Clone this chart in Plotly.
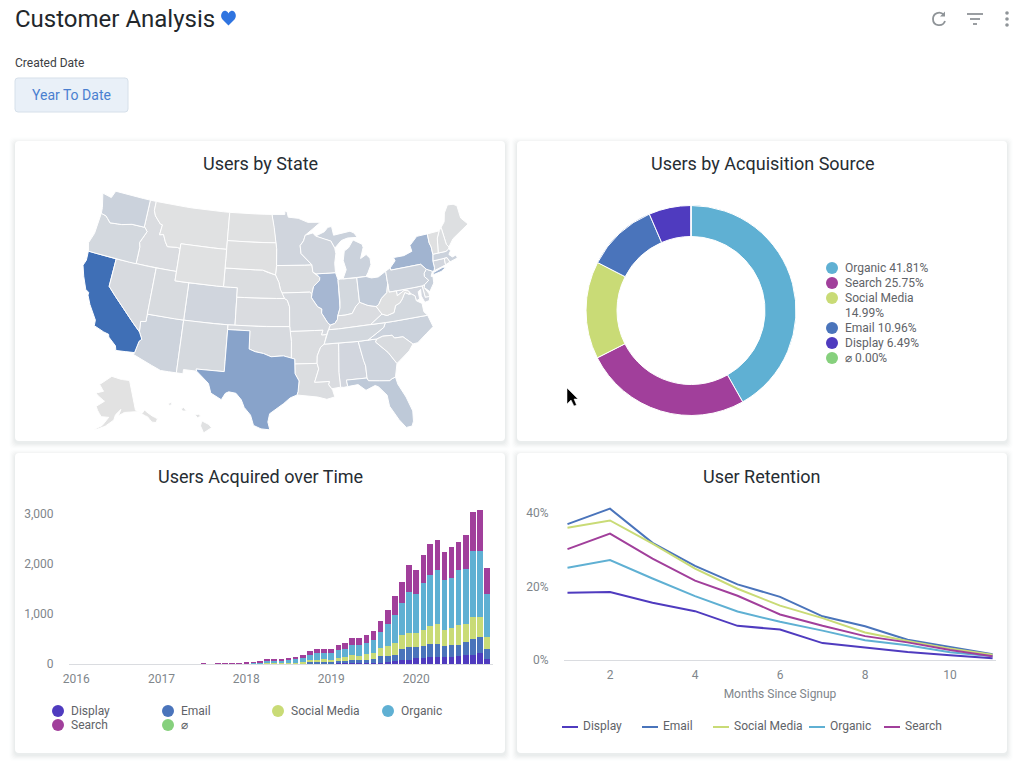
import math
import plotly.graph_objects as go

W, H = 1024, 764

COLORS = {"Display": "#4f3bbf", "Email": "#4a74bb", "Social Media": "#c9db76",
          "Organic": "#5fb0d3", "Search": "#a13f9b", "none": "#86d07d"}
GREY_TEXT = "#80868b"
LEGEND_TEXT = "#5f6368"
TITLE_TEXT = "#262d33"

# map values
state_codes = ["AL","AR","AZ","CA","CO","CT","DE","FL","GA","IA","ID","IL","IN","KS","KY","LA","MA","MD","ME","MI",
               "MN","MO","MS","MT","NC","ND","NE","NH","NJ","NM","NV","NY","OH","OK","OR","PA","RI","SC","SD","TN",
               "TX","UT","VA","VT","WA","WI","WV","WY","AK","HI"]
state_users = [10,4,13,100,11,10,6,22,12,4,5,37,9,5,5,4,14,10,3,14,
               11,7,5,1,14,1,4,3,16,8,7,40,20,7,9,13,6,6,2,9,
               55,6,9,2,14,11,2,1,0,1]

# simplified state outlines, lon/lat
state_shapes = {
    "WA": [[(-124.7,48.4),(-123.2,48.2),(-122.8,49),(-117.03,49),(-117.04,46),(-118.98,46),(-119.3,45.93),(-120.5,45.7),(-121.2,45.65),(-122.3,45.55),(-122.8,45.9),(-123.2,46.15),(-124,46.27),(-124.1,46.9)]],
    "OR": [[(-124,46.27),(-123.2,46.15),(-122.8,45.9),(-122.3,45.55),(-121.2,45.65),(-120.5,45.7),(-119.3,45.93),(-118.98,46),(-116.92,46),(-116.46,45.6),(-116.85,44.9),(-117.22,44.3),(-117.03,43.8),(-117.03,42),(-124.2,42),(-124.55,42.85),(-124.1,44),(-123.96,45.5)]],
    "CA": [[(-124.2,42),(-120,42),(-120,39),(-114.63,35),(-114.13,34.26),(-114.43,34),(-114.72,32.72),(-117.12,32.53),(-117.3,33),(-118.4,33.75),(-118.5,34.03),(-119.2,34.15),(-120.6,34.55),(-120.65,35.15),(-121.9,36.6),(-122.5,37.5),(-122.5,37.8),(-123,38),(-123.8,39.3),(-124.35,40.4),(-124.1,41)]],
    "NV": [[(-120,42),(-114.04,42),(-114.04,36.2),(-114.74,36.1),(-114.63,35),(-120,39)]],
    "ID": [[(-117.03,49),(-116.05,49),(-116.05,48),(-115.7,47.45),(-114.7,46.7),(-114.35,46.65),(-114.5,45.55),(-113.9,45.65),(-113.45,44.95),(-113,44.45),(-111.5,44.55),(-111.05,44.48),(-111.05,42),(-117.03,42),(-117.03,43.8),(-117.22,44.3),(-116.85,44.9),(-116.46,45.6),(-116.92,46),(-117.04,46)]],
    "MT": [[(-116.05,49),(-104.05,49),(-104.05,45),(-111.05,45),(-111.05,44.48),(-111.5,44.55),(-113,44.45),(-113.45,44.95),(-113.9,45.65),(-114.5,45.55),(-114.35,46.65),(-114.7,46.7),(-115.7,47.45),(-116.05,48)]],
    "WY": [[(-111.05,45),(-104.05,45),(-104.05,41),(-111.05,41)]],
    "UT": [[(-114.04,42),(-111.05,42),(-111.05,41),(-109.05,41),(-109.05,37),(-114.04,37)]],
    "CO": [[(-109.05,41),(-102.05,41),(-102.05,37),(-109.05,37)]],
    "AZ": [[(-114.04,37),(-109.05,37),(-109.05,31.33),(-111.07,31.33),(-114.81,32.5),(-114.72,32.72),(-114.43,34),(-114.13,34.26),(-114.63,35),(-114.74,36.1),(-114.04,36.2)]],
    "NM": [[(-109.05,37),(-103,37),(-103.04,32),(-106.62,32),(-106.53,31.78),(-108.21,31.78),(-108.21,31.33),(-109.05,31.33)]],
    "ND": [[(-104.05,49),(-97.23,49),(-96.85,47.6),(-96.56,45.94),(-104.05,45.94)]],
    "SD": [[(-104.05,45.94),(-96.56,45.94),(-96.45,45.3),(-96.45,43.5),(-96.6,42.5),(-97.9,42.8),(-98.5,43),(-104.05,43)]],
    "NE": [[(-104.05,43),(-98.5,43),(-97.9,42.8),(-96.6,42.5),(-96.1,41.7),(-95.9,41),(-95.31,40),(-102.05,40),(-102.05,41),(-104.05,41)]],
    "KS": [[(-102.05,40),(-95.31,40),(-94.9,39.8),(-94.61,39.1),(-94.62,37),(-102.05,37)]],
    "OK": [[(-103,37),(-94.62,37),(-94.43,35.4),(-94.48,33.64),(-95.5,33.9),(-97.1,33.8),(-98.1,34.13),(-99.2,34.3),(-100,34.56),(-100,36.5),(-103,36.5)]],
    "TX": [[(-106.62,32),(-103.04,32),(-103,36.5),(-100,36.5),(-100,34.56),(-99.2,34.3),(-98.1,34.13),(-97.1,33.8),(-95.5,33.9),(-94.48,33.64),(-94.04,33.55),(-94.04,32),(-93.55,31.2),(-93.7,30.1),(-93.84,29.7),(-94.7,29.4),(-95.5,28.8),(-97.2,27.7),(-97.4,26.8),(-97.15,25.96),(-98.2,26.05),(-99.1,26.4),(-99.5,27.5),(-100.3,28.3),(-100.7,29.1),(-101.4,29.77),(-102.3,29.88),(-102.7,29.7),(-103.15,28.98),(-104.5,29.6),(-104.9,30.6),(-106.53,31.78)]],
    "MN": [[(-97.23,49),(-95.15,49),(-95.15,49.38),(-94.8,49.3),(-94.6,48.7),(-93,48.55),(-91.5,48.07),(-89.5,48),(-92,46.7),(-92.3,46.1),(-92.85,45.6),(-92.75,44.75),(-91.2,43.5),(-96.45,43.5),(-96.45,45.3),(-96.56,45.94),(-96.85,47.6)]],
    "IA": [[(-96.45,43.5),(-91.2,43.5),(-91.1,42.7),(-90.15,42.1),(-90.2,41.8),(-91.1,41.2),(-91.42,40.38),(-91.7,40.6),(-95.77,40.58),(-95.9,41),(-96.1,41.7),(-96.6,42.5)]],
    "MO": [[(-95.77,40.58),(-91.7,40.6),(-91.42,40.38),(-91.5,40),(-90.7,39),(-90.15,38.75),(-90.2,38.3),(-89.5,37.3),(-89.13,36.98),(-89.4,36.5),(-89.7,36),(-90.37,36),(-90.15,36.5),(-94.62,36.5),(-94.62,37),(-94.61,39.1),(-94.9,39.8),(-95.31,40)]],
    "AR": [[(-94.62,36.5),(-90.15,36.5),(-90.37,36),(-89.7,36),(-90.1,35),(-90.6,34.7),(-91.1,33.8),(-91.17,33),(-94.04,33.02),(-94.04,33.55),(-94.48,33.64),(-94.43,35.4)]],
    "LA": [[(-94.04,33.02),(-91.17,33),(-91,32.4),(-91.6,31),(-89.73,31),(-89.85,30.65),(-89.5,30.2),(-89.4,30),(-89.2,29.3),(-90.2,29.1),(-91.3,29.4),(-92.3,29.55),(-93.84,29.7),(-93.7,30.1),(-93.55,31.2),(-94.04,32)]],
    "WI": [[(-92,46.7),(-90.8,46.9),(-90.4,46.55),(-89.1,46.14),(-88.1,45.9),(-87.6,45.1),(-87.5,44.5),(-87.8,43.5),(-87.8,42.49),(-90.64,42.51),(-91.1,42.7),(-91.2,43.5),(-92.75,44.75),(-92.85,45.6),(-92.3,46.1)]],
    "IL": [[(-90.64,42.51),(-87.8,42.49),(-87.53,41.72),(-87.53,39.35),(-87.6,38.7),(-88,37.9),(-88.1,37.5),(-88.5,37.1),(-89.13,36.98),(-89.5,37.3),(-90.2,38.3),(-90.15,38.75),(-90.7,39),(-91.5,40),(-91.42,40.38),(-91.1,41.2),(-90.2,41.8),(-90.15,42.1)]],
    "IN": [[(-87.53,41.72),(-87.2,41.76),(-84.8,41.72),(-84.82,39.1),(-85.4,38.7),(-86,38),(-87,37.9),(-88,37.9),(-87.6,38.7),(-87.53,39.35)]],
    "MI": [[(-86.8,41.76),(-84.8,41.72),(-83.45,41.73),(-83.1,42.1),(-82.5,42.9),(-82.5,43.6),(-83,44.05),(-83.9,43.7),(-83.3,44.85),(-83.4,45.2),(-84.7,45.78),(-85.5,45),(-86.2,44.7),(-86.5,43.7),(-86.2,42.7)],
           [(-90.4,46.55),(-89,46.95),(-88.4,47.4),(-87.8,47.45),(-87.6,46.5),(-85,46.75),(-84.4,46.5),(-84,46),(-85.5,46.05),(-86.5,45.85),(-87.6,45.1),(-88.1,45.9),(-89.1,46.14)]],
    "OH": [[(-84.8,41.72),(-83.45,41.73),(-82.7,41.5),(-81.7,41.5),(-80.52,41.98),(-80.52,40.64),(-80.85,39.7),(-81.7,39.2),(-82.2,38.6),(-82.6,38.42),(-83.7,38.65),(-84.82,39.1)]],
    "KY": [[(-89.4,36.5),(-89.13,36.98),(-88.5,37.1),(-88.1,37.5),(-88,37.9),(-87,37.9),(-86,38),(-85.4,38.7),(-84.82,39.1),(-83.7,38.65),(-82.6,38.42),(-81.97,37.54),(-83.68,36.6),(-88.07,36.5)]],
    "TN": [[(-90.1,35),(-89.7,36),(-89.4,36.5),(-88.07,36.5),(-83.68,36.6),(-81.68,36.59),(-82,36.1),(-84.3,35),(-85.6,34.98),(-88.2,35)]],
    "MS": [[(-90.1,35),(-88.2,35),(-88.47,31.9),(-88.4,30.3),(-89.5,30.2),(-89.85,30.65),(-89.73,31),(-91.6,31),(-91,32.4),(-91.17,33),(-91.1,33.8),(-90.6,34.7)]],
    "AL": [[(-88.2,35),(-85.6,34.98),(-85.18,32.87),(-85,32.3),(-85,31),(-87.6,31),(-87.5,30.3),(-88,30.25),(-88.4,30.3),(-88.47,31.9)]],
    "GA": [[(-85.6,34.98),(-83.1,35),(-83.35,34.7),(-81.9,33.4),(-81,32.1),(-81.45,30.7),(-82,30.55),(-82.2,30.4),(-84.86,30.7),(-85,31),(-85,32.3),(-85.18,32.87)]],
    "FL": [[(-87.6,31),(-85,31),(-84.86,30.7),(-82.2,30.4),(-82,30.55),(-81.45,30.7),(-81.3,29.9),(-80.55,28.4),(-80.03,26.8),(-80.15,25.7),(-80.4,25.2),(-81.1,25.15),(-81.8,26.1),(-82.7,27.7),(-82.8,28.9),(-83.7,29.9),(-84.1,30.1),(-85.3,29.7),(-86.2,30.4),(-87.5,30.3)]],
    "SC": [[(-83.35,34.7),(-83.1,35),(-82.3,35.2),(-81.05,35.15),(-80.8,34.82),(-79.67,34.8),(-78.55,33.86),(-79.2,33.2),(-80.5,32.4),(-81,32.1),(-81.9,33.4)]],
    "NC": [[(-84.3,35),(-83.1,35),(-82.3,35.2),(-81.05,35.15),(-80.8,34.82),(-79.67,34.8),(-78.55,33.86),(-77.9,33.9),(-76.5,34.7),(-75.5,35.25),(-75.9,36.55),(-81.68,36.59),(-82,36.1)]],
    "VA": [[(-83.68,36.6),(-81.97,37.54),(-81.3,37.3),(-80.3,37.5),(-79.95,38.2),(-79.3,38.4),(-78.87,38.77),(-78.35,39.4),(-77.83,39.13),(-77.5,39.1),(-77.05,38.85),(-77,38.3),(-76.3,37.9),(-76.3,37),(-75.9,36.55),(-81.68,36.59)]],
    "WV": [[(-82.6,38.42),(-82.2,38.6),(-81.7,39.2),(-80.85,39.7),(-80.52,40.64),(-80.52,39.72),(-79.48,39.72),(-79.48,39.2),(-78.4,39.62),(-77.83,39.5),(-77.72,39.32),(-77.83,39.13),(-78.35,39.4),(-78.87,38.77),(-79.3,38.4),(-79.95,38.2),(-80.3,37.5),(-81.3,37.3),(-81.97,37.54)]],
    "MD": [[(-79.48,39.72),(-75.79,39.72),(-75.7,38.46),(-75.05,38.45),(-75.25,38.03),(-75.9,37.95),(-76.2,38.7),(-76.1,39.4),(-76.5,39.2),(-76.5,38.4),(-77,38.3),(-77.05,38.85),(-77.5,39.1),(-77.72,39.32),(-77.83,39.5),(-78.4,39.62),(-79.48,39.2)]],
    "DE": [[(-75.79,39.72),(-75.4,39.8),(-75.55,39.5),(-75.1,38.8),(-75.05,38.45),(-75.7,38.46)]],
    "PA": [[(-80.52,41.98),(-79.76,42.27),(-79.76,42),(-75.35,42),(-74.7,41.36),(-75.13,40.98),(-75.2,40.65),(-74.72,40.15),(-75.4,39.8),(-75.79,39.72),(-80.52,39.72)]],
    "NJ": [[(-74.7,41.36),(-73.9,41),(-74.25,40.5),(-74,40.45),(-74.1,39.75),(-74.9,38.95),(-75.55,39.5),(-75.4,39.8),(-74.72,40.15),(-75.2,40.65),(-75.13,40.98)]],
    "NY": [[(-79.76,42.27),(-78.9,42.9),(-79.05,43.27),(-77.5,43.27),(-76.2,43.55),(-76.3,44.2),(-75,45),(-74.7,45),(-73.35,45),(-73.4,44),(-73.25,43.55),(-73.27,42.75),(-73.5,42.05),(-73.5,41.3),(-73.65,41),(-73.9,41),(-74.7,41.36),(-75.35,42),(-79.76,42)],
           [(-74,40.6),(-73.75,40.85),(-72.3,41.15),(-71.9,41.05),(-72.7,40.75),(-73.9,40.55)]],
    "CT": [[(-73.5,42.05),(-71.8,42.02),(-71.85,41.32),(-73.65,41),(-73.5,41.3)]],
    "RI": [[(-71.8,42.02),(-71.38,42.02),(-71.15,41.5),(-71.85,41.32)]],
    "MA": [[(-73.5,42.05),(-73.27,42.75),(-71.3,42.7),(-70.85,42.87),(-70.6,42.65),(-71,42.3),(-70.6,41.95),(-70,42.05),(-69.95,41.7),(-70.6,41.55),(-71.15,41.5),(-71.38,42.02),(-71.8,42.02)]],
    "VT": [[(-73.35,45),(-71.5,45.01),(-72.05,44.3),(-72.46,42.73),(-73.27,42.75),(-73.25,43.55),(-73.4,44)]],
    "NH": [[(-71.5,45.01),(-71.08,45.3),(-70.98,43.4),(-70.7,43.07),(-70.85,42.87),(-71.3,42.7),(-72.46,42.73),(-72.05,44.3)]],
    "ME": [[(-71.08,45.3),(-70.4,45.8),(-70,46.7),(-69.2,47.45),(-68.3,47.35),(-67.8,47.07),(-67.8,45.7),(-67,44.85),(-68.5,44.3),(-69.8,43.8),(-70.7,43.07),(-70.98,43.4)]],
    "AK": [[(-141,69.6),(-141,60.3),(-137.5,58.9),(-135.5,59.7),(-133.5,58),(-130,55.9),(-131.5,55),(-133.5,55.5),(-135,57.5),(-137,58.3),(-139.5,59.7),(-144,60),(-148,60.1),(-151.8,59.2),(-150,61.1),(-153.5,59.5),(-154.5,57.9),(-158,56.3),(-163,54.8),(-164.8,54.6),(-161,56),(-157.5,58.7),(-162,58.7),(-164.8,60.5),(-166,61.6),(-161,63.5),(-165,64.5),(-168,65.6),(-162.5,66.5),(-166.5,68.4),(-163,69.5),(-156.6,71.35),(-150,70.5)]],
    "HI": [[(-155.9,20.25),(-155.1,19.85),(-154.8,19.5),(-155.7,18.95),(-156.05,19.7)],
           [(-156.7,20.95),(-156.25,20.95),(-156,20.75),(-156.4,20.58)],
           [(-158.25,21.55),(-157.95,21.7),(-157.65,21.3),(-158.1,21.3)],
           [(-159.75,22.1),(-159.4,22.23),(-159.3,22),(-159.6,21.9)]],
}

# donut
source_names = ["Organic", "Search", "Social Media", "Email", "Display", "⌀"]
source_shares = [41.81, 25.75, 14.99, 10.96, 6.49, 0.0]
source_colors = [COLORS["Organic"], COLORS["Search"], COLORS["Social Media"], COLORS["Email"], COLORS["Display"], COLORS["none"]]

# monthly bars, Jul 2017 to Nov 2020
months = ["2017-07-01","2017-08-01","2017-09-01","2017-10-01","2017-11-01","2017-12-01",
          "2018-01-01","2018-02-01","2018-03-01","2018-04-01","2018-05-01","2018-06-01","2018-07-01","2018-08-01","2018-09-01","2018-10-01","2018-11-01","2018-12-01",
          "2019-01-01","2019-02-01","2019-03-01","2019-04-01","2019-05-01","2019-06-01","2019-07-01","2019-08-01","2019-09-01","2019-10-01","2019-11-01","2019-12-01",
          "2020-01-01","2020-02-01","2020-03-01","2020-04-01","2020-05-01","2020-06-01","2020-07-01","2020-08-01","2020-09-01","2020-10-01","2020-11-01"]
display_users = [0,0,0,0,1,1, 1,1,2,2,3,3,3,3,7,7,7,7, 13,13,20,20,20,27,27,27,40,53,80,80, 113,127,133,147,133,147,160,180,180,213,100]
email_users = [0,0,0,1,2,2, 3,3,3,4,7,7,7,7,7,27,33,33, 27,40,40,60,60,53,67,133,127,127,220,260, 227,233,267,253,227,233,220,260,320,327,200]
social_users = [0,0,1,1,2,2, 3,3,3,7,7,7,20,20,27,40,40,53, 40,73,87,93,80,120,120,153,193,240,280,280, 280,320,360,400,320,340,400,360,447,407,240]
organic_users = [0,0,5,6,8,8, 8,15,20,40,47,53,53,67,87,107,140,127, 140,153,153,207,220,220,267,327,440,560,640,820, 780,940,1020,1080,1000,1000,1100,1100,1313,1313,860]
search_users = [14,0,4,4,5,5, 6,10,15,47,40,33,40,47,53,80,80,80, 80,100,120,140,140,160,180,220,280,380,420,540, 480,560,620,600,560,620,560,680,780,820,513]
bar_series = [("Display", display_users), ("Email", email_users), ("Social Media", social_users),
              ("Organic", organic_users), ("Search", search_users)]
year_ticks = ["2016-01-01", "2017-01-01", "2018-01-01", "2019-01-01", "2020-01-01"]
year_labels = ["2016", "2017", "2018", "2019", "2020"]

# retention lines
signup_months = [1, 2, 3, 4, 5, 6, 7, 8, 9, 10, 11]
display_retention = [18.3, 18.5, 15.6, 13.3, 9.3, 8.3, 4.6, 3.4, 2.2, 1.3, 0.5]
email_retention = [37.0, 41.2, 31.9, 25.6, 20.6, 17.2, 11.9, 9.2, 5.5, 3.6, 1.6]
social_retention = [36.0, 38.0, 31.7, 24.9, 19.4, 14.8, 11.4, 7.5, 5.2, 3.1, 1.4]
organic_retention = [25.1, 27.2, 22.2, 17.4, 13.2, 10.4, 8.0, 5.4, 4.0, 2.1, 1.0]
search_retention = [30.2, 34.4, 27.6, 21.6, 17.5, 12.4, 9.3, 6.5, 4.8, 2.7, 1.0]
line_series = [("Display", display_retention), ("Email", email_retention), ("Social Media", social_retention),
               ("Organic", organic_retention), ("Search", search_retention)]


def px(x):
    return x / W


def py(y):
    return 1 - y / H


def a(x, y):
    return f"{px(x):.5f},{py(y):.5f}"


def path(points):
    return "M" + " L".join(a(x, y) for x, y in points) + " Z"


def rounded(x0, y0, x1, y1, r):
    return (f"M{a(x0 + r, y0)} L{a(x1 - r, y0)} Q{a(x1, y0)} {a(x1, y0 + r)} L{a(x1, y1 - r)} Q{a(x1, y1)} {a(x1 - r, y1)} "
            f"L{a(x0 + r, y1)} Q{a(x0, y1)} {a(x0, y1 - r)} L{a(x0, y0 + r)} Q{a(x0, y0)} {a(x0 + r, y0)} Z")


def conic(lon, lat, rotate, center, parallels):
    # conic equal area, same setup as d3.geoAlbersUsa
    s1, s2 = math.radians(parallels[0]), math.radians(parallels[1])
    n = (math.sin(s1) + math.sin(s2)) / 2
    c = math.cos(s1) ** 2 + 2 * n * math.sin(s1)
    r0 = math.sqrt(c) / n

    def raw(lam, phi):
        r = math.sqrt(c - 2 * n * math.sin(math.radians(phi))) / n
        t = n * math.radians(lam)
        return r * math.sin(t), r0 - r * math.cos(t)

    x, y = raw(lon + rotate, lat)
    cx, cy = raw(center[0], center[1])
    return x - cx, y - cy


def albers_usa(code, lon, lat):
    if code == "AK":
        x, y = conic(lon, lat, 154, (-2, 58.5), (55, 65))
        return 0.35 * x - 0.307, 0.35 * y - 0.201
    if code == "HI":
        x, y = conic(lon, lat, 157, (-3, 19.9), (8, 18))
        return x - 0.205, y - 0.212
    return conic(lon, lat, 96, (-0.6, 38.7), (29.5, 45.5))


def blend(value, low=(226, 226, 226), high=(63, 111, 182)):
    t = value / 100
    return "rgb(" + ",".join(str(round(l + (h - l) * t)) for l, h in zip(low, high)) + ")"


def dense_ring(ring):
    # long straight borders have to bend with the projection
    out = []
    for p, q in zip(ring, ring[1:] + ring[:1]):
        steps = max(1, int(max(abs(q[0] - p[0]), abs(q[1] - p[1])) / 1.0))
        out += [(p[0] + (q[0] - p[0]) * i / steps, p[1] + (q[1] - p[1]) * i / steps) for i in range(steps)]
    return out


fig = go.Figure()
shapes = []
annotations = []


def text(x, y, s, size=12, color=LEGEND_TEXT, anchor="left", family="Roboto"):
    # annotations carry about 2px of padding on the left
    x = x - 2 if anchor == "left" else x
    annotations.append(dict(x=px(x), y=py(y), xref="paper", yref="paper", text=s, showarrow=False,
                            xanchor=anchor, yanchor="middle", font=dict(family=family, size=size, color=color)))


def dot(x, y, r, color):
    shapes.append(dict(type="circle", xref="paper", yref="paper", x0=px(x - r), x1=px(x + r), y0=py(y + r), y1=py(y - r),
                       fillcolor=color, line_width=0))


# cards with a soft shadow
for x0, y0, x1, y1 in [(15, 141, 505, 441), (517, 141, 1007, 441), (15, 453, 505, 753), (517, 453, 1007, 753)]:
    for spread, alpha in [(6, 0.008), (5, 0.01), (4, 0.014), (3, 0.018), (2, 0.022), (1, 0.025)]:
        shapes.append(dict(type="path", xref="paper", yref="paper", layer="below", line_width=0,
                           path=rounded(x0 - spread, y0 - spread + 2, x1 + spread, y1 + spread + 2, 5),
                           fillcolor=f"rgba(60,64,67,{alpha})"))
    shapes.append(dict(type="path", xref="paper", yref="paper", layer="below", line_width=0,
                       path=rounded(x0, y0, x1, y1, 4), fillcolor="white"))

# header
text(15, 19, "Customer Analysis", size=24, color="#22272b")
shapes.append(dict(type="path", xref="paper", yref="paper", fillcolor="#2f74e0", line_width=0,
                   path=f"M{a(228.5, 25.5)} L{a(222.5, 19.5)} C{a(219, 15)} {a(223, 9.5)} {a(226, 11)} C{a(227.5, 11.5)} {a(228, 12.5)} {a(228.5, 13.5)} "
                        f"C{a(229, 12.5)} {a(229.5, 11.5)} {a(231, 11)} C{a(234, 9.5)} {a(238, 15)} {a(234.5, 19.5)} Z"))
text(15, 63, "Created Date", size=12, color="#3c4043")
shapes.append(dict(type="path", xref="paper", yref="paper", path=rounded(15, 78, 128, 112, 3),
                   fillcolor="#e9f0f8", line=dict(color="#d6e0ea", width=1)))
text(71.5, 95, "Year To Date", size=14, color="#4a7fd0", anchor="center")

# toolbar icons
ICON = "#8f9498"
shapes.append(dict(type="path", xref="paper", yref="paper", line=dict(color=ICON, width=1.8),
                   path=f"M{a(944, 15)} C{a(940, 10.5)} {a(933, 13)} {a(933, 19)} C{a(933, 26.5)} {a(943, 27)} {a(945, 21)}"))
shapes.append(dict(type="path", xref="paper", yref="paper", fillcolor=ICON, line_width=0,
                   path=path([(945, 11.5), (945, 16.5), (940, 16.5)])))
for x0, x1, y in [(967, 983, 14), (970, 980, 19), (973, 977, 24)]:
    shapes.append(dict(type="line", xref="paper", yref="paper", x0=px(x0), x1=px(x1), y0=py(y), y1=py(y),
                       line=dict(color=ICON, width=1.8)))
for y in [13, 19, 25]:
    dot(1007, y, 1.8, ICON)

# card titles
text(260, 164, "Users by State", size=18, color=TITLE_TEXT, anchor="center")
text(762, 164, "Users by Acquisition Source", size=18, color=TITLE_TEXT, anchor="center")
text(260, 476, "Users Acquired over Time", size=18, color=TITLE_TEXT, anchor="center")
text(762, 476, "User Retention", size=18, color=TITLE_TEXT, anchor="center")

# map, fitted to the CA coast at x=83 and the ME tip at x=468 / y=224
ca_x, _ = albers_usa("CA", -124.35, 40.4)
me_x, me_y = albers_usa("ME", -67, 44.85)
map_scale = (468 - 83) / (me_x - ca_x)
map_left, map_right, map_top, map_bottom = 60, 500, 180, 438
for code, users in zip(state_codes, state_users):
    xs, ys = [], []
    for ring in state_shapes[code]:
        pts = [albers_usa(code, lon, lat) for lon, lat in dense_ring(ring)]
        xs += [p[0] for p in pts] + [pts[0][0], None]
        ys += [p[1] for p in pts] + [pts[0][1], None]
    fig.add_trace(go.Scatter(x=xs, y=ys, mode="lines", fill="toself", fillcolor=blend(users), name=code,
                             line=dict(color="white", width=1), hoverinfo="name", showlegend=False,
                             xaxis="x3", yaxis="y3"))
fig.update_layout(
    xaxis3=dict(domain=[px(map_left), px(map_right)], visible=False, anchor="y3",
                range=[ca_x + (map_left - 83) / map_scale, ca_x + (map_right - 83) / map_scale]),
    yaxis3=dict(domain=[py(map_bottom), py(map_top)], visible=False, anchor="x3",
                range=[me_y - (map_bottom - 224) / map_scale, me_y - (map_top - 224) / map_scale]))

# donut
fig.add_trace(go.Pie(labels=source_names, values=source_shares, hole=0.705, sort=False, direction="clockwise",
                     rotation=0, textinfo="none", showlegend=False,
                     marker=dict(colors=source_colors, line=dict(color="white", width=1)),
                     domain=dict(x=[px(586), px(796)], y=[py(415.5), py(205.5)])))
legend_rows = [(268, "Organic 41.81%", 0), (283, "Search 25.75%", 1), (298, "Social Media", 2),
               (328, "Email 10.96%", 3), (343, "Display 6.49%", 4), (358, "⌀ 0.00%", 5)]
for y, label, i in legend_rows:
    dot(832, y, 6, source_colors[i])
    text(845, y, label)
text(845, 313, "14.99%")

# stacked bars
for name, values in bar_series:
    fig.add_trace(go.Bar(x=months, y=values, name=name, marker_color=COLORS[name], marker_line_width=0,
                         showlegend=False, xaxis="x", yaxis="y"))
tick_font = dict(family="Roboto", size=12, color=GREY_TEXT)
fig.update_layout(
    barmode="stack", bargap=0.14,
    xaxis=dict(domain=[px(69), px(493)], type="date", range=["2015-12-01", "2020-11-26"], tickmode="array",
               tickvals=year_ticks, ticktext=year_labels, showgrid=False, showline=True, linecolor="#dadce0",
               ticks="outside", tickcolor="rgba(0,0,0,0)", ticklen=4, tickfont=tick_font, zeroline=False, anchor="y"),
    yaxis=dict(domain=[py(664), py(504)], range=[0, 3200], tickmode="array", tickvals=[0, 1000, 2000, 3000],
               ticktext=["0", "1,000", "2,000", "3,000"], showgrid=False, zeroline=False, showline=False,
               ticks="outside", tickcolor="rgba(0,0,0,0)", ticklen=12, anchor="x", tickfont=tick_font))
for x, y, name, color in [(58, 711, "Display", COLORS["Display"]), (168, 711, "Email", COLORS["Email"]),
                          (278, 711, "Social Media", COLORS["Social Media"]), (388, 711, "Organic", COLORS["Organic"]),
                          (58, 725, "Search", COLORS["Search"]), (168, 725, "⌀", COLORS["none"])]:
    dot(x, y, 6, color)
    text(x + 13, y, name)

# retention lines
for name, values in line_series:
    fig.add_trace(go.Scatter(x=signup_months, y=values, mode="lines", name=name, showlegend=False,
                             line=dict(color=COLORS[name], width=2), xaxis="x2", yaxis="y2"))
fig.update_layout(
    xaxis2=dict(domain=[px(564), px(996)], range=[0.918, 11.08], tickmode="array", tickvals=[2, 4, 6, 8, 10],
                ticktext=["2", "4", "6", "8", "10"], showgrid=False, zeroline=False, showline=True, linecolor="#dadce0",
                ticks="outside", tickcolor="rgba(0,0,0,0)", ticklen=4, anchor="y2", tickfont=tick_font,
                title=dict(text="Months Since Signup", standoff=8, font=tick_font)),
    yaxis2=dict(domain=[py(660), py(505)], range=[0, 42.2], tickmode="array", tickvals=[0, 20, 40],
                ticktext=["0%", "20%", "40%"], showgrid=False, zeroline=False, showline=False,
                ticks="outside", tickcolor="rgba(0,0,0,0)", ticklen=12, anchor="x2", tickfont=tick_font))
for x, name in [(562, "Display"), (642, "Email"), (713, "Social Media"), (809, "Organic"), (884, "Search")]:
    shapes.append(dict(type="line", xref="paper", yref="paper", x0=px(x), x1=px(x + 16), y0=py(727), y1=py(727),
                       line=dict(color=COLORS[name], width=2)))
    text(x + 21, 726, name)

# mouse pointer from the screen capture
shapes.append(dict(type="path", xref="paper", yref="paper", fillcolor="black", line=dict(color="white", width=0.5),
                   path=path([(567, 388), (567, 404), (571, 400), (574, 406), (576.5, 405), (574, 399), (578, 399)])))

fig.update_layout(template="none", width=W, height=H, margin=dict(l=0, r=0, t=0, b=0), paper_bgcolor="white", plot_bgcolor="rgba(0,0,0,0)",
                  shapes=shapes, annotations=annotations, showlegend=False)
fig.write_html("out.html", config={"displayModeBar": False}, post_script="document.body.style.margin='0'")
